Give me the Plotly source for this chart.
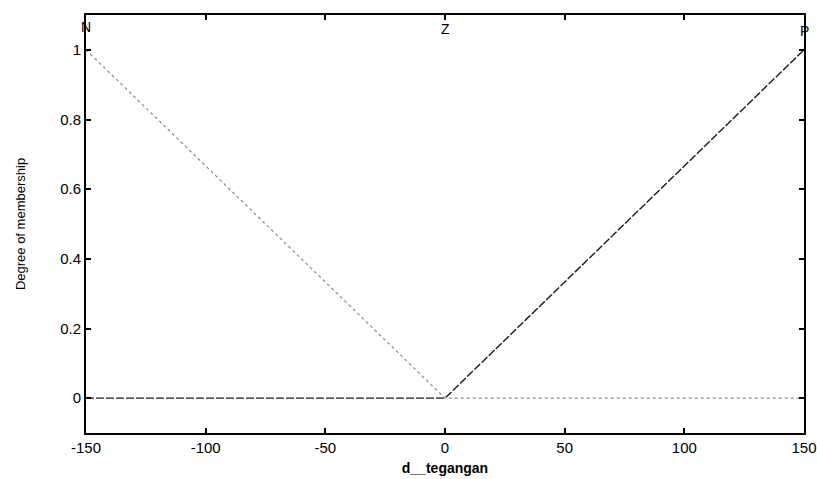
import plotly.graph_objects as go

# Universe of discourse and membership function breakpoints
x_pts = [-150, 0, 150]
mf_N = [1, 0, 0]
mf_P = [0, 0, 1]
mf_labels = ["N", "Z", "P"]
mf_label_x = [-150, 0, 150]

x_ticks = [-150, -100, -50, 0, 50, 100, 150]
x_ticktext = ["-150", "-100", "-50", "0", "50", "100", "150"]
y_ticks = [0, 0.2, 0.4, 0.6, 0.8, 1]
y_ticktext = ["0", "0.2", "0.4", "0.6", "0.8", "1"]

fig = go.Figure()
fig.add_trace(go.Scatter(x=x_pts, y=mf_P, mode="lines", name="P",
                         line=dict(color="#1a1a1a", width=1.4, dash="8px,2px")))
fig.add_trace(go.Scatter(x=x_pts, y=mf_N, mode="lines", name="N",
                         line=dict(color="#8a8a8a", width=1.2, dash="3px,3px")))

label_y = [1.065, 1.06, 1.055]
for lab, lx, ly in zip(mf_labels, mf_label_x, label_y):
    fig.add_annotation(x=lx, y=ly, text=lab, showarrow=False,
                       font=dict(family="Liberation Sans, Arial", size=14, color="black"))

fig.update_layout(
    width=817, height=479,
    margin=dict(l=86, r=13, t=15, b=46),
    paper_bgcolor="white", plot_bgcolor="white",
    showlegend=False,
    font=dict(family="Liberation Sans, Arial", color="black"),
    xaxis=dict(range=[-150, 150], tickvals=x_ticks, ticktext=x_ticktext,
               ticks="inside", ticklen=5, tickwidth=1.5, tickcolor="black",
               showline=True, linecolor="black", linewidth=2, mirror="allticks",
               showgrid=False, zeroline=False, automargin=False,
               tickfont=dict(size=15, family="Liberation Sans, Arial"),
               title=dict(text="<b>d__tegangan</b>", standoff=8,
                          font=dict(size=14, family="Liberation Sans, Arial"))),
    yaxis=dict(range=[-0.1, 1.1], tickvals=y_ticks, ticktext=y_ticktext,
               ticks="inside", ticklen=5, tickwidth=1.5, tickcolor="black",
               showline=True, linecolor="black", linewidth=2, mirror="allticks",
               showgrid=False, zeroline=False, automargin=False,
               tickfont=dict(size=15, family="Liberation Sans, Arial"),
               title=dict(text="Degree of membership", standoff=32,
                          font=dict(size=13, family="Liberation Sans Narrow, Arial Narrow, Liberation Sans"))),
)

fig.write_html("out.html", config={"displayModeBar": False},
               post_script="document.body.style.margin='0';document.body.style.overflow='hidden';")
